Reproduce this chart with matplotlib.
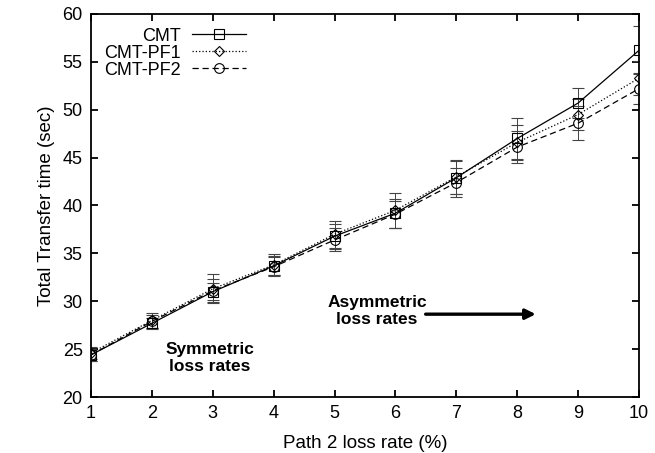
import matplotlib
matplotlib.use("Agg")
import matplotlib.pyplot as plt
from matplotlib.lines import Line2D

plt.rcParams['font.family'] = ['Liberation Sans', 'DejaVu Sans']

loss = [1, 2, 3, 4, 5, 6, 7, 8, 9, 10]
cmt = [24.4, 27.7, 31.0, 33.7, 36.8, 39.2, 42.9, 47.0, 50.7, 56.2]
cmt_err = [0.6, 0.6, 0.9, 1.0, 1.3, 1.5, 1.7, 2.1, 1.6, 2.5]
pf1 = [24.6, 28.0, 31.3, 33.8, 37.0, 39.5, 43.0, 46.6, 49.5, 53.3]
pf1_err = [0.6, 0.8, 1.5, 1.1, 1.4, 1.8, 1.8, 1.8, 1.6, 1.8]
pf2 = [24.4, 27.9, 31.1, 33.6, 36.4, 39.1, 42.4, 46.1, 48.6, 52.2]
pf2_err = [0.6, 0.7, 1.2, 1.0, 1.2, 1.4, 1.5, 1.7, 1.8, 1.6]

fig = plt.figure(figsize=(6.55, 4.53), dpi=100)
ax = fig.add_axes([91/655, 1-397/453, (639-91)/655, (397-14)/453])

styles = [
    ('CMT', cmt, cmt_err, 's', 7, '-'),
    ('CMT-PF1', pf1, pf1_err, 'D', 5, ':'),
    ('CMT-PF2', pf2, pf2_err, 'o', 7, (0, (5, 3))),
]
handles = []
for label, y, e, m, ms, ls in styles:
    ax.errorbar(loss, y, yerr=e, marker=m, ms=ms, ls=ls, color='black', lw=0.9,
                mfc='none', mew=0.8, ecolor='#444444', elinewidth=0.7,
                capsize=4, capthick=0.7)
    handles.append(Line2D([], [], color='black', lw=0.9, ls=ls, marker=m,
                          ms=ms, mfc='none', mew=0.8, label=label))

ax.set_xlim(1, 10)
ax.set_ylim(20, 60)
ax.set_xticks(loss)
ax.set_yticks(range(20, 61, 5))
ax.tick_params(direction='in', length=5, width=1.3, labelsize=13, top=True, right=True, pad=6)
for s in ax.spines.values():
    s.set_linewidth(1.3)
ax.set_xlabel('Path 2 loss rate (%)', fontsize=13.5, labelpad=9)
ax.set_ylabel('Total Transfer time (sec)', fontsize=13.5, labelpad=5)

leg = ax.legend(handles=handles, loc='upper left', bbox_to_anchor=(0.0, 1.0), frameon=False,
                fontsize=13, markerfirst=False, handlelength=3.0,
                labelspacing=0.0, borderaxespad=0.35, handletextpad=0.6)
for t in leg.get_texts():
    t.set_ha('right')
leg._legend_box.align = 'right'

ax.text(2.95, 24.1, 'Symmetric\nloss rates', ha='center', va='center',
        fontsize=12.5, fontweight='bold', linespacing=1.15)
ax.text(5.7, 29.0, 'Asymmetric\nloss rates', ha='center', va='center',
        fontsize=12.5, fontweight='bold', linespacing=1.15)
ax.annotate('', xy=(8.35, 28.65), xytext=(6.45, 28.65),
            arrowprops=dict(arrowstyle='-|>', color='black', lw=2.4,
                            mutation_scale=15))

fig.savefig('out.png', dpi=100)
